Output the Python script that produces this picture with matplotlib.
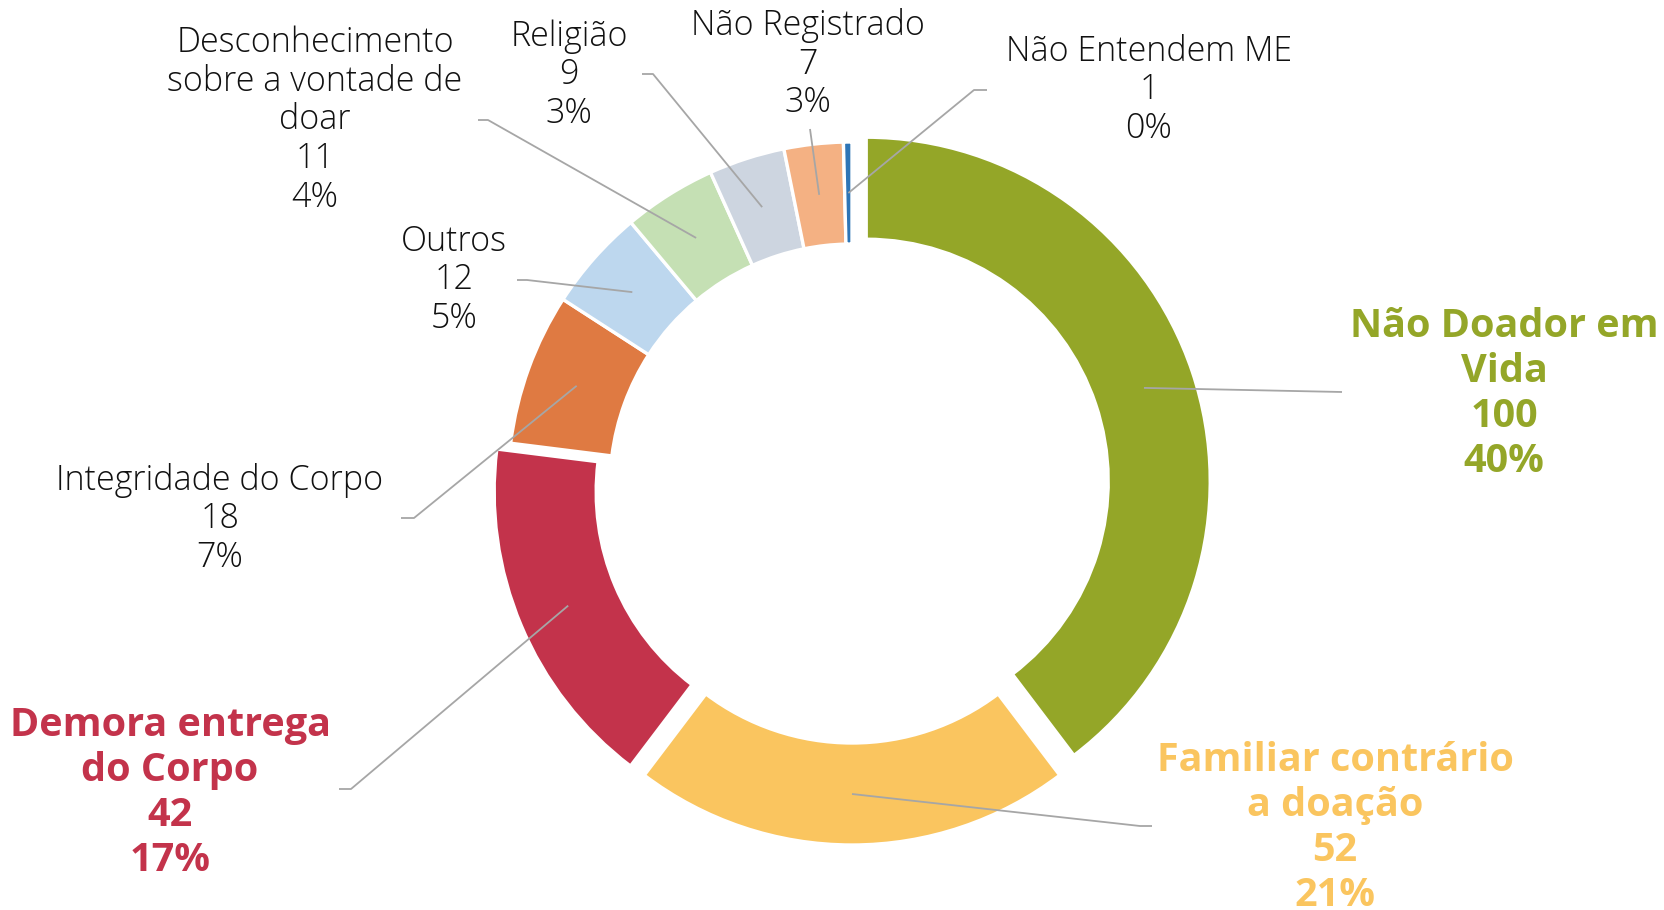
import numpy as np
import matplotlib
matplotlib.use("Agg")
import matplotlib.pyplot as plt

# Data (clockwise from the top)
categories = [
    "Não Doador em\nVida",
    "Familiar contrário\na doação",
    "Demora entrega\ndo Corpo",
    "Integridade do Corpo",
    "Outros",
    "Desconhecimento\nsobre a vontade de\ndoar",
    "Religião",
    "Não Registrado",
    "Não Entendem ME",
]
counts = [100, 52, 42, 18, 12, 11, 9, 7, 1]
pct_labels = ["40%", "21%", "17%", "7%", "5%", "4%", "3%", "3%", "0%"]

colors = ["#94A628", "#FAC55F", "#C3334B", "#DF7A42", "#BDD7EE",
          "#C5E0B4", "#CDD5E0", "#F4B183", "#2E75B6"]
highlight = [True, True, True, False, False, False, False, False, False]

W, H = 1664, 910
FONT = "Open Sans"


def fy(y):
    # image pixel rows -> data y
    return H - y


# label centres and leader line end points in image pixels
label_pos = [(1504, 394), (1335, 828), (170, 793), (220, 519),
             (454, 280), (315, 120), (569, 75), (808, 64), (1149, 90)]
leader_pts = [
    [(1342, 392)],
    [(1140, 826), (1152, 826)],
    [(351, 789), (339, 789)],
    [(414, 518), (401, 518)],
    [(527, 280), (517, 280)],
    [(488, 120), (478, 120)],
    [(653, 74), (642, 74)],
    [(810, 129)],
    [(974, 90), (987, 90)],
]

fig = plt.figure(figsize=(W / 100, H / 100), dpi=100)
ax = fig.add_axes([0, 0, 1, 1])
ax.set_xlim(0, W)
ax.set_ylim(0, H)
ax.set_aspect("equal")
ax.axis("off")

R = 344
ring = 102
explode = [15 if h else 0 for h in highlight]
wedges, _ = ax.pie(counts, colors=colors, startangle=90, counterclock=False,
                   radius=R, center=(852, fy(486)), explode=explode,
                   wedgeprops=dict(width=ring, edgecolor="white", linewidth=2.4))
ax.set_xlim(0, W)
ax.set_ylim(0, H)

for i, w in enumerate(wedges):
    mid = np.deg2rad((w.theta1 + w.theta2) / 2)
    rm = R - ring / 2
    sx = w.center[0] + rm * np.cos(mid)
    sy = w.center[1] + rm * np.sin(mid)
    xs = [sx] + [p[0] for p in leader_pts[i]]
    ys = [sy] + [fy(p[1]) for p in leader_pts[i]]
    ax.plot(xs, ys, color="#A6A6A6", lw=1.3, zorder=5, solid_capstyle="butt")

    txt = f"{categories[i]}\n{counts[i]}\n{pct_labels[i]}"
    lx, ly = label_pos[i]
    if highlight[i]:
        ax.text(lx, fy(ly), txt, ha="center", va="center", fontsize=28.5,
                fontweight="bold", color=colors[i], family=FONT, linespacing=1.2)
    else:
        ax.text(lx, fy(ly), txt, ha="center", va="center", fontsize=24.5,
                fontweight="light", color="#111111", family=FONT, linespacing=1.16)

fig.savefig("out.png", dpi=100)
